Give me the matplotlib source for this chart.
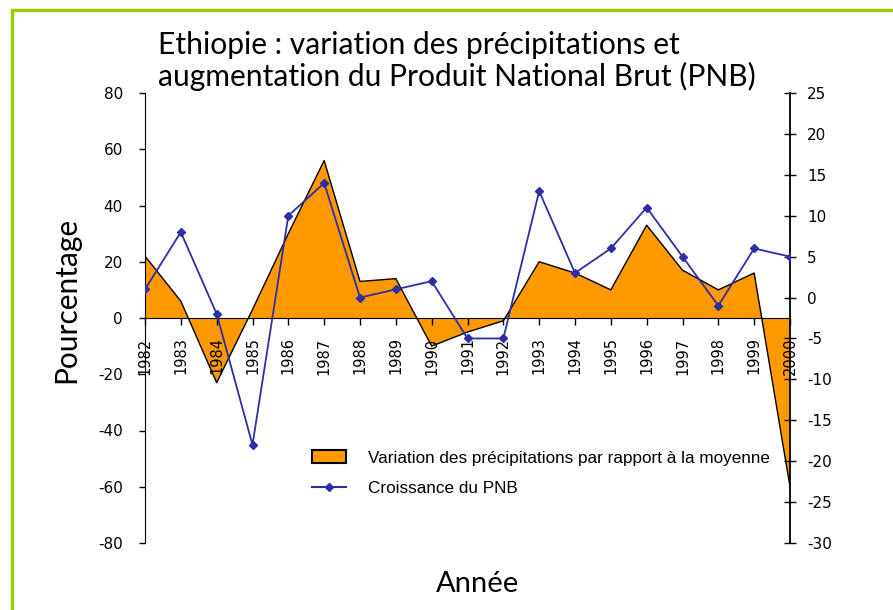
import matplotlib
matplotlib.use('Agg')
import matplotlib.pyplot as plt
from matplotlib.patches import Rectangle, Patch
from matplotlib.lines import Line2D

plt.rcParams['axes.unicode_minus'] = False

years = [1982, 1983, 1984, 1985, 1986, 1987, 1988, 1989, 1990, 1991,
         1992, 1993, 1994, 1995, 1996, 1997, 1998, 1999, 2000]
year_labels = [str(y) for y in years]
# variation des precipitations (%), axe de gauche
precip = [22, 6, -23, 3, 30, 56, 13, 14, -10, -5,
          -1, 20, 16, 10, 33, 17, 10, 16, -60]
# croissance du PNB (%), axe de droite
pnb = [1, 8, -2, -18, 10, 14, 0, 1, 2, -5,
       -5, 13, 3, 6, 11, 5, -1, 6, 5]

left_ticks = [80, 60, 40, 20, 0, -20, -40, -60, -80]
right_ticks = [25, 20, 15, 10, 5, 0, -5, -10, -15, -20, -25, -30]

orange = '#FF9900'
blue = '#2E2EA6'
tick_font = 'DejaVu Sans'
title_font = ['Lato', 'DejaVu Sans']
legend_font = ['Liberation Sans', 'DejaVu Sans']

fig = plt.figure(figsize=(8.93, 6.10), dpi=100)
ax = fig.add_axes([145/893, 1-543/610, 645/893, 450/610])

ax.fill_between(years, precip, 0, facecolor=orange, edgecolor='none', zorder=1)
ax.plot(years, precip, color='black', lw=1.0, zorder=2)
ax.set_xlim(years[0], years[-1])
ax.set_ylim(-80, 80)
ax.set_yticks(left_ticks)
ax.set_yticklabels([str(t) for t in left_ticks], fontfamily=tick_font, fontsize=11)
ax.tick_params(axis='y', direction='out', length=4, width=1, pad=12)

ax.spines['bottom'].set_position(('data', 0))
ax.spines['bottom'].set_zorder(3)
ax.spines['top'].set_visible(False)
ax.spines['right'].set_visible(False)
ax.set_xticks(years)
ax.set_xticklabels(year_labels, rotation=90, fontfamily=tick_font, fontsize=10.5)
ax.tick_params(axis='x', direction='out', length=5, width=1, pad=9)

ax2 = ax.twinx()
ax2.plot(years, pnb, color=blue, lw=1.3, marker='D', markersize=4.5,
         markerfacecolor=blue, markeredgecolor=blue, zorder=4)
ax2.set_ylim(-30, 25)
ax2.set_yticks(right_ticks)
ax2.set_yticklabels([str(t) for t in right_ticks], fontfamily=tick_font, fontsize=11)
ax2.tick_params(axis='y', direction='inout', length=9, width=1, pad=8)
for s in ['top', 'bottom', 'left']:
    ax2.spines[s].set_visible(False)
ax2.spines['right'].set_linewidth(1.3)

fig.text(66/893, 1-300/610, 'Pourcentage', fontfamily=title_font, fontsize=21.5,
         rotation=90, ha='center', va='center')
fig.text(478/893, 1-584/610, 'Année', fontfamily=title_font, fontsize=21,
         ha='center', va='center')
fig.text(158/893, 1-31/610,
         'Ethiopie : variation des précipitations et\naugmentation du Produit National Brut (PNB)',
         fontfamily=title_font, fontsize=21.6, ha='left', va='top', linespacing=1.1)

handles = [Patch(facecolor=orange, edgecolor='black', lw=1.5),
           Line2D([], [], color=blue, lw=1.5, marker='D', markersize=4.5)]
labels = ['Variation des précipitations par rapport à la moyenne', 'Croissance du PNB']
fig.legend(handles, labels, loc='upper left', bbox_to_anchor=(297/893, 1-435/610),
           frameon=False, prop={'family': legend_font, 'size': 12.3},
           handlelength=1.95, handleheight=0.8, handletextpad=1.3, labelspacing=0.85)

fig.add_artist(Rectangle((12/893, -0.1), 1.2, 1.1 - 10/610, transform=fig.transFigure,
                         fill=False, edgecolor='#99CC00', lw=2.5))

fig.savefig('out.png', dpi=100)
